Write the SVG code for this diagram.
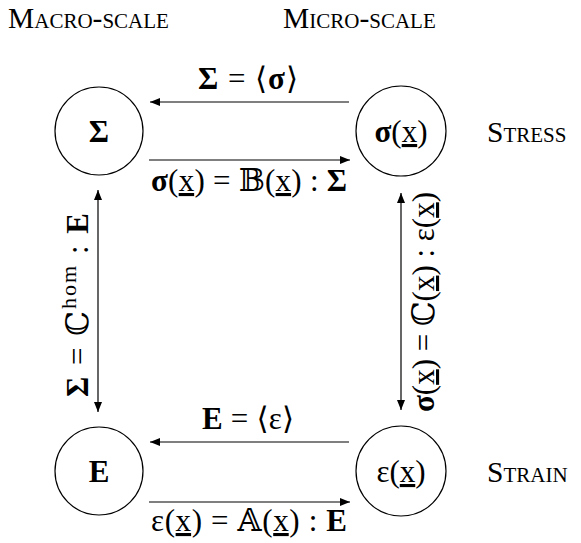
<svg xmlns="http://www.w3.org/2000/svg" width="581" height="543" viewBox="0 0 581 543">
<style>
text{font-family:"Liberation Serif","DejaVu Serif",serif;font-size:31px;fill:#000}
.sc{font-variant:small-caps;font-size:29.5px}
.m{text-anchor:middle}
.b{font-weight:bold}
.u{text-decoration:underline}
circle{fill:#fff;stroke:#000;stroke-width:1.2}
.c line{stroke:#000;stroke-width:1.2}
</style>
<defs>
<marker id="ah" viewBox="0 0 10 8" refX="10" refY="4" markerWidth="10" markerHeight="8" markerUnits="userSpaceOnUse" orient="auto-start-reverse">
<path d="M0,0 L10,4 L0,8 Z" fill="#000"/>
</marker>
</defs>
<g id="headers">
<text class="sc" x="8" y="28">Macro-scale</text>
<text class="sc" x="283" y="28">Micro-scale</text>
<text class="sc" x="487" y="142">Stress</text>
<text class="sc" x="487" y="482">Strain</text>
</g>
<g class="c" id="connectors">
<line x1="349" y1="102" x2="150" y2="102" marker-end="url(#ah)"/>
<line x1="149" y1="160" x2="350" y2="160" marker-end="url(#ah)"/>
<line x1="349" y1="442" x2="150" y2="442" marker-end="url(#ah)"/>
<line x1="149" y1="502" x2="350" y2="502" marker-end="url(#ah)"/>
<line x1="98" y1="190" x2="98" y2="412" marker-start="url(#ah)" marker-end="url(#ah)"/>
<line x1="401" y1="193" x2="401" y2="410" marker-start="url(#ah)" marker-end="url(#ah)"/>
<text class="m" x="248" y="89" textLength="100" lengthAdjust="spacing"><tspan class="b">Σ</tspan> = ⟨<tspan class="b">σ</tspan>⟩</text>
<text class="m" x="249" y="191" textLength="196" lengthAdjust="spacing"><tspan class="b">σ</tspan>(<tspan class="u">x</tspan>) = 𝔹(<tspan class="u">x</tspan>) : <tspan class="b">Σ</tspan></text>
<text class="m" x="248" y="429" textLength="92" lengthAdjust="spacing"><tspan class="b">E</tspan> = ⟨ε⟩</text>
<text class="m" x="249" y="531" textLength="196" lengthAdjust="spacing">ε(<tspan class="u">x</tspan>) = 𝔸(<tspan class="u">x</tspan>) : <tspan class="b">E</tspan></text>
<text transform="translate(88,305) rotate(-90)" class="m" textLength="184" lengthAdjust="spacing"><tspan class="b">Σ</tspan> = ℂ<tspan font-size="22" dy="-12">hom</tspan><tspan dy="12"> : </tspan><tspan class="b">E</tspan></text>
<text transform="translate(434,302) rotate(-90)" class="m" textLength="220" lengthAdjust="spacing"><tspan class="b">σ</tspan>(<tspan class="u">x</tspan>) = ℂ(<tspan class="u">x</tspan>) : ε(<tspan class="u">x</tspan>)</text>
</g>
<g id="node-Sigma">
<circle cx="99" cy="131" r="44"/>
<text class="m b" x="99" y="142">Σ</text>
</g>
<g id="node-sigma">
<circle cx="401" cy="131" r="45"/>
<text class="m" x="401" y="142"><tspan class="b">σ</tspan>(<tspan class="u">x</tspan>)</text>
</g>
<g id="node-E">
<circle cx="99" cy="471" r="44"/>
<text class="m b" x="99" y="482">E</text>
</g>
<g id="node-epsilon">
<circle cx="401" cy="471" r="45"/>
<text class="m" x="401" y="482">ε(<tspan class="u">x</tspan>)</text>
</g>
</svg>
